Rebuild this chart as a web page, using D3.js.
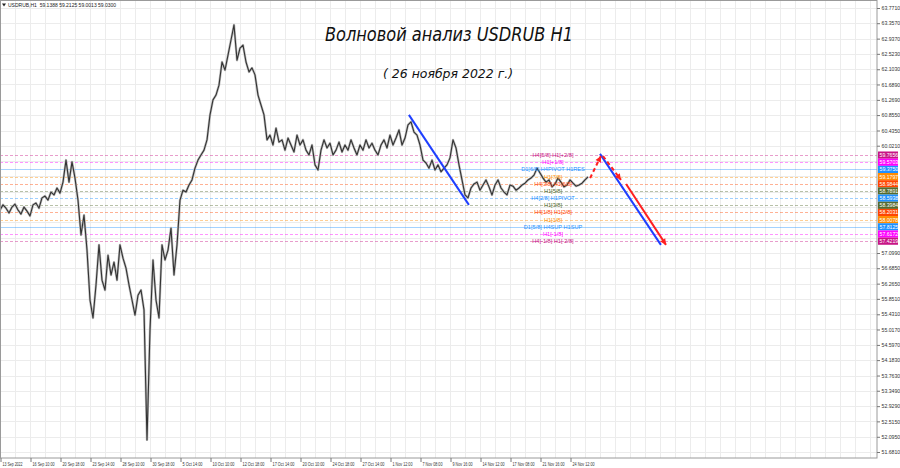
<!DOCTYPE html>
<html><head><meta charset="utf-8">
<script src="https://cdn.jsdelivr.net/npm/d3@7"></script>
<style>body{margin:0;background:#fff}svg{display:block}</style>
</head><body><svg id="c" width="900" height="468"></svg>
<script>
const symbolHeader = "USDRUB,H1  59.1388 59.2125 59.0013 59.0300";
const titleText = "Волновой анализ USDRUB H1";
const subtitleText = "( 26 ноября 2022 г.)";

const timeLabels = ["13 Sep 2022","16 Sep 10:00","20 Sep 18:00","23 Sep 14:00","28 Sep 10:00","30 Sep 18:00","5 Oct 14:00","10 Oct 10:00","12 Oct 18:00","17 Oct 14:00","20 Oct 10:00","24 Oct 18:00","27 Oct 14:00","1 Nov 12:00","7 Nov 08:00","9 Nov 16:00","14 Nov 12:00","17 Nov 08:00","21 Nov 16:00","24 Nov 12:00"];
const timeLabelIdx = [0,10,20,30,40,50,60,70,80,90,100,110,120,130,140,150,160,170,180,190];

const priceTicks = [63.7710,63.3570,62.9370,62.5230,62.1030,61.6890,61.2690,60.8550,60.4350,60.0210,59.6070,59.1870,58.7730,58.3530,57.9390,57.5190,57.0990,56.6850,56.2650,55.8510,55.4310,55.0170,54.5970,54.1830,53.7630,53.3490,52.9290,52.5150,52.0950,51.6810];

const closes = [58.27,58.41,58.32,58.19,58.35,58.43,58.27,58.16,58.35,58.24,58.11,58.41,58.46,58.32,58.60,58.65,58.54,58.76,58.68,58.87,58.73,59.03,59.63,59.03,59.58,59.14,58.54,57.59,58.13,57.18,
55.82,55.33,56.23,57.32,56.36,56.09,57.04,56.50,56.85,56.36,57.32,56.96,56.69,56.23,55.82,55.41,55.95,56.09,55.55,52.01,55.00,56.91,55.82,55.33,57.32,56.91,57.18,57.78,56.50,57.32,
58.54,58.81,58.76,58.95,59.09,59.41,59.63,59.77,59.90,60.18,60.86,61.27,61.40,61.67,62.30,62.08,62.49,62.90,63.31,62.35,62.68,62.76,62.30,62.03,62.14,61.95,61.40,61.13,60.86,60.18,
60.31,60.04,60.50,60.12,60.18,59.90,60.23,60.04,59.85,60.31,60.04,60.18,59.90,59.77,60.04,59.50,59.36,59.90,60.18,59.96,60.09,59.77,59.90,60.12,59.85,60.04,59.90,60.18,59.96,59.77,
60.04,59.90,60.18,59.96,60.09,59.90,59.77,60.04,60.18,59.96,60.31,60.04,60.23,60.45,60.04,60.23,60.59,60.67,60.39,60.31,60.04,59.63,59.55,59.41,59.63,59.36,59.50,59.31,59.41,59.50,
59.69,60.18,59.96,59.50,59.09,58.68,58.60,58.87,58.98,59.03,58.81,58.95,59.09,58.90,58.68,58.95,59.09,58.87,58.76,58.68,58.95,58.92,58.81,58.87,58.95,59.00,59.09,59.14,59.22,59.41,
59.28,59.14,59.03,59.09,58.90,58.98,59.14,59.03,58.90,58.95,59.09,59.00,58.92,58.95,59.00,59.09,59.17];

const levelPrices = [59.7656,59.5703,59.3750,59.1797,58.9844,58.7891,58.5938,58.3984,58.2031,58.0078,57.8125,57.6172,57.4219];
const levelNames = ["H4[5/8] H1[+2/8]","H1[+1/8]","D1[6/8] H4PIVOT H1RES","H1[7/8]","H4[3/8] H1[6/8]","H1[5/8]","H4[2/8] H1PIVOT","H1[3/8]","H4[1/8] H1[2/8]","H1[1/8]","D1[5/8] H4SUP H1SUP","H1[-1/8]","H4[-1/8] H1[-2/8]"];
const levelColors = ["#c71585","#ff00ff","#1e90ff","#ff8c00","#ff4500","#556b2f","#1e90ff","#556b2f","#ff4500","#ff8c00","#1e90ff","#ff00ff","#c71585"];
const levelSolid = [false,false,true,false,false,false,false,false,false,false,true,false,false];

const blueLines = [[[136.3,60.86],[156.3,58.41]],[[200.0,59.80],[220.3,57.32]]];
const redDashed = [[[196.7,59.14],[200.3,59.74]],[[201.0,59.74],[207.0,59.09]]];
const redSolid = [[[208.7,58.98],[222.0,57.32]]];

const W = 900, H = 468, plotR = 877, plotB = 458;
const FONT = "Liberation Sans, Arial, sans-serif";
const svg = d3.select("#c");
const x = d3.scaleLinear().domain([0, 292.33]).range([0, plotR]);
const y = d3.scaleLinear().domain([51.681, 63.771]).range([452, 8]);

svg.append("rect").attr("width",W).attr("height",H).attr("fill","#fff");

// grid
const g = svg.append("g");
const vGrid = d3.range(0, 292, 5);
g.selectAll("line.vg").data(vGrid).join("line").attr("class","vg")
  .attr("x1",d=>x(d)+0.5).attr("x2",d=>x(d)+0.5).attr("y1",0).attr("y2",plotB)
  .attr("stroke","#ececec").attr("stroke-width",1);
g.selectAll("line.hg").data(priceTicks).join("line").attr("class","hg")
  .attr("x1",0).attr("x2",plotR).attr("y1",d=>Math.round(y(d))+0.5).attr("y2",d=>Math.round(y(d))+0.5)
  .attr("stroke","#ececec").attr("stroke-width",1);

// level lines
const lv = svg.append("g");
levelPrices.forEach((p,i)=>{
  lv.append("line").attr("x1",0).attr("x2",plotR)
    .attr("y1",Math.round(y(p))+0.5).attr("y2",Math.round(y(p))+0.5)
    .attr("stroke",levelColors[i]).attr("stroke-opacity",levelSolid[i]?0.4:0.42)
    .attr("stroke-width",1)
    .attr("stroke-dasharray",levelSolid[i]?null:"3,2");
});

// price line
const line = d3.line().x((d,i)=>x(i)).y(d=>y(d));
svg.append("path").datum(closes).attr("d",line)
  .attr("fill","none").attr("stroke","#bdbdbd").attr("stroke-width",2.4).attr("stroke-linejoin","round");
svg.append("path").datum(closes).attr("d",line)
  .attr("fill","none").attr("stroke","#333").attr("stroke-width",1.1).attr("stroke-linejoin","round");

// level texts
levelPrices.forEach((p,i)=>{
  svg.append("text").attr("x",553).attr("y",y(p)+2).attr("text-anchor","middle")
    .attr("font-family",FONT).attr("font-size",5.6)
    .attr("fill",levelColors[i]).text(levelNames[i]);
});

// wave lines
const pl = d3.line().x(d=>x(d[0])).y(d=>y(d[1]));
blueLines.forEach(s=>svg.append("path").attr("d",pl(s)).attr("stroke","#1f3fff").attr("stroke-width",2).attr("fill","none"));
function arrowHead(s,color){
  const [a,b]=s; const x1=x(a[0]),y1=y(a[1]),x2=x(b[0]),y2=y(b[1]);
  const ang=Math.atan2(y2-y1,x2-x1), L=6, w=3;
  const p=[[x2,y2],[x2-L*Math.cos(ang)+w*Math.sin(ang), y2-L*Math.sin(ang)-w*Math.cos(ang)],[x2-L*Math.cos(ang)-w*Math.sin(ang), y2-L*Math.sin(ang)+w*Math.cos(ang)]];
  svg.append("path").attr("d","M"+p.map(q=>q.join(",")).join("L")+"Z").attr("fill",color);
}
redDashed.forEach(s=>{svg.append("path").attr("d",pl(s)).attr("stroke","#ff2020").attr("stroke-width",2).attr("stroke-dasharray","4,3").attr("fill","none"); arrowHead(s,"#ff2020");});
redSolid.forEach(s=>{svg.append("path").attr("d",pl(s)).attr("stroke","#ff2020").attr("stroke-width",2).attr("fill","none"); arrowHead(s,"#ff2020");});

// frame
svg.append("rect").attr("x",0.5).attr("y",0.5).attr("width",plotR-0.5).attr("height",plotB-0.5)
  .attr("fill","none").attr("stroke","#9a9a9a");

// price axis
const levelYs = levelPrices.map(p=>y(p));
const visTicks = priceTicks.filter(t=>levelYs.every(ly=>Math.abs(ly-y(t))>7));
const ya = svg.append("g").attr("transform",`translate(${plotR},0)`)
  .call(d3.axisRight(y).tickValues(visTicks).tickFormat(d3.format(".4f")).tickSize(3).tickPadding(1.5));
ya.select(".domain").remove();
ya.selectAll("line").attr("stroke","#777");
ya.selectAll("text").attr("font-family",FONT).attr("font-size",5.2).attr("fill","#333");

// level value boxes
levelPrices.forEach((p,i)=>{
  const yy=y(p);
  svg.append("rect").attr("x",plotR+1).attr("y",yy-3.6).attr("width",20).attr("height",7.2).attr("fill",levelColors[i]);
  svg.append("text").attr("x",plotR+2.5).attr("y",yy+1.9).attr("font-family",FONT)
    .attr("font-size",5.2).attr("fill","#fff").text(d3.format(".4f")(p));
});

// time axis
const xa = svg.append("g").attr("transform",`translate(0,${plotB})`)
  .call(d3.axisBottom(x).tickValues(timeLabelIdx).tickFormat((d,i)=>timeLabels[i]).tickSize(4).tickPadding(1));
xa.select(".domain").remove();
xa.selectAll("line").attr("stroke","#777").attr("transform","translate(0.5,0)");
xa.selectAll("text").attr("text-anchor","start").attr("dx",2).attr("dy",0).attr("y",8)
  .attr("font-family",FONT).attr("font-size",4.8).attr("fill","#333")
  .attr("textLength",(d,i)=>timeLabels[i].length>11?22:20).attr("lengthAdjust","spacingAndGlyphs");

// header
svg.append("path").attr("d","M2,3.5L6,3.5L4,6.5Z").attr("fill","#222");
svg.append("text").attr("x",8).attr("y",7).attr("font-family",FONT)
  .attr("font-size",5).attr("fill","#222").attr("xml:space","preserve").text(symbolHeader);

// titles
svg.append("text").attr("x",325).attr("y",41).attr("textLength",248).attr("lengthAdjust","spacingAndGlyphs")
  .attr("font-family","DejaVu Sans, sans-serif").attr("font-style","italic").attr("font-size",19)
  .attr("fill","#111").text(titleText);
svg.append("text").attr("x",383).attr("y",78).attr("textLength",130).attr("lengthAdjust","spacingAndGlyphs")
  .attr("font-family","DejaVu Sans, sans-serif").attr("font-style","italic").attr("font-size",13)
  .attr("fill","#111").text(subtitleText);
</script></body></html>
